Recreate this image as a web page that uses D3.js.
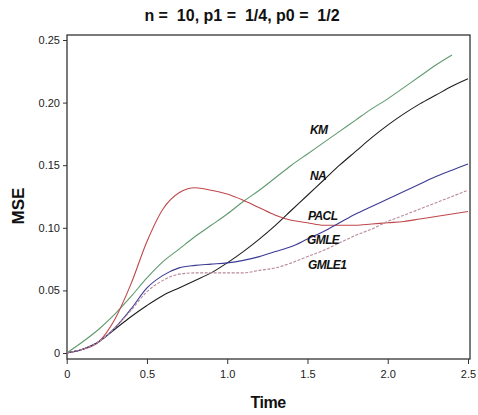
<!DOCTYPE html>
<html><head><meta charset="utf-8">
<script src="https://cdn.jsdelivr.net/npm/d3@7"></script>
<style>body{margin:0;background:#fff}svg{display:block}text{font-family:"Liberation Sans",Arial,sans-serif}</style>
</head><body><svg id="c" width="478" height="415"></svg>
<script>
const times = [0,0.1,0.2,0.3,0.4,0.5,0.6,0.7,0.8,0.9,1.0,1.1,1.2,1.3,1.4,1.5,1.6,1.7,1.8,1.9,2.0,2.1,2.2,2.3,2.4,2.5];
const km    = [0,0.009,0.019,0.031,0.045,0.060,0.073,0.083,0.093,0.102,0.111,0.121,0.130,0.140,0.150,0.159,0.168,0.177,0.186,0.195,0.203,0.212,0.221,0.230,0.238,null];
const na    = [0,0.003,0.009,0.019,0.029,0.038,0.046,0.052,0.058,0.064,0.072,0.081,0.091,0.102,0.114,0.126,0.138,0.150,0.161,0.172,0.182,0.191,0.199,0.206,0.213,0.219];
const pacl  = [0,0.003,0.009,0.027,0.055,0.089,0.115,0.128,0.132,0.130,0.127,0.122,0.116,0.110,0.106,0.104,0.102,0.102,0.102,0.103,0.104,0.105,0.107,0.109,0.111,0.113];
const gmle  = [0,0.003,0.009,0.020,0.035,0.052,0.062,0.068,0.070,0.071,0.072,0.074,0.077,0.081,0.085,0.091,0.097,0.104,0.111,0.117,0.123,0.129,0.135,0.141,0.146,0.151];
const gmle1 = [0,0.003,0.009,0.020,0.034,0.049,0.058,0.063,0.064,0.064,0.064,0.064,0.066,0.068,0.072,0.077,0.082,0.088,0.094,0.099,0.105,0.110,0.115,0.120,0.125,0.130];
const seriesNames = ["KM","NA","PACL","GMLE","GMLE1"];
const xTicks = [0,0.5,1.0,1.5,2.0,2.5];
const xTickLabels = ["0","0.5","1.0","1.5","2.0","2.5"];
const yTicks = [0,0.05,0.10,0.15,0.20,0.25];
const yTickLabels = ["0","0.05","0.10","0.15","0.20","0.25"];

const svg = d3.select("#c");
const L=67, R=470, T=35, B=359;
const x = d3.scaleLinear().domain([0,2.5]).range([66.7,468]);
const y = d3.scaleLinear().domain([0,0.25]).range([353,40]);

svg.append("rect").attr("x",L).attr("y",T).attr("width",R-L).attr("height",B-T)
  .attr("fill","none").attr("stroke","#222").attr("stroke-width",1.2);

const xa = svg.append("g").attr("transform",`translate(0,${B})`)
  .call(d3.axisBottom(x).tickValues(xTicks).tickFormat((d,i)=>xTickLabels[i]).tickSize(5).tickPadding(6));
const ya = svg.append("g").attr("transform",`translate(${L},0)`)
  .call(d3.axisLeft(y).tickValues(yTicks).tickFormat((d,i)=>yTickLabels[i]).tickSize(4).tickPadding(3));
[xa,ya].forEach(a=>{a.select(".domain").remove();a.selectAll("line").attr("stroke","#333");
  a.selectAll("text").attr("fill","#222").style("font-size","11px");});

const colors = {KM:"#5f9a6e",NA:"#1e1e1e",PACL:"#c0474a",GMLE:"#3b3b94",GMLE1:"#b9899a"};
const data = {KM:km,NA:na,PACL:pacl,GMLE:gmle,GMLE1:gmle1};
const line = d3.line().x(d=>x(d[0])).y(d=>y(d[1])).curve(d3.curveMonotoneX);
seriesNames.forEach(n=>{
  const pts = times.map((t,i)=>[t,data[n][i]]).filter(d=>d[1]!==null);
  svg.append("path").datum(pts).attr("d",line).attr("fill","none")
    .attr("stroke",colors[n]).attr("stroke-width",1.1)
    .attr("stroke-dasharray", n==="GMLE1" ? "3,1.5" : null);
});

const labelPos = {KM:[310,134],NA:[310,180],PACL:[308,220],GMLE:[307,244],GMLE1:[308,269]};
seriesNames.forEach(n=>{
  svg.append("text").attr("x",labelPos[n][0]).attr("y",labelPos[n][1]).text(n)
    .style("font-size","12px").style("font-weight","bold").style("font-style","italic")
    .style("letter-spacing","-0.6px").attr("fill","#111");
});

svg.append("text").attr("x",242).attr("y",21).attr("text-anchor","middle")
  .style("font-size","16px").style("font-weight","bold").style("white-space","pre").attr("fill","#111")
  .text("n =  10, p1 =  1/4, p0 =  1/2");
svg.append("text").attr("x",268).attr("y",408).attr("text-anchor","middle")
  .style("font-size","16px").style("font-weight","bold").style("letter-spacing","-0.5px").attr("fill","#111").text("Time");
svg.append("text").attr("transform","translate(24,206) rotate(-90)").attr("text-anchor","middle")
  .style("font-size","17px").style("font-weight","bold").attr("fill","#111").text("MSE");
</script></body></html>
